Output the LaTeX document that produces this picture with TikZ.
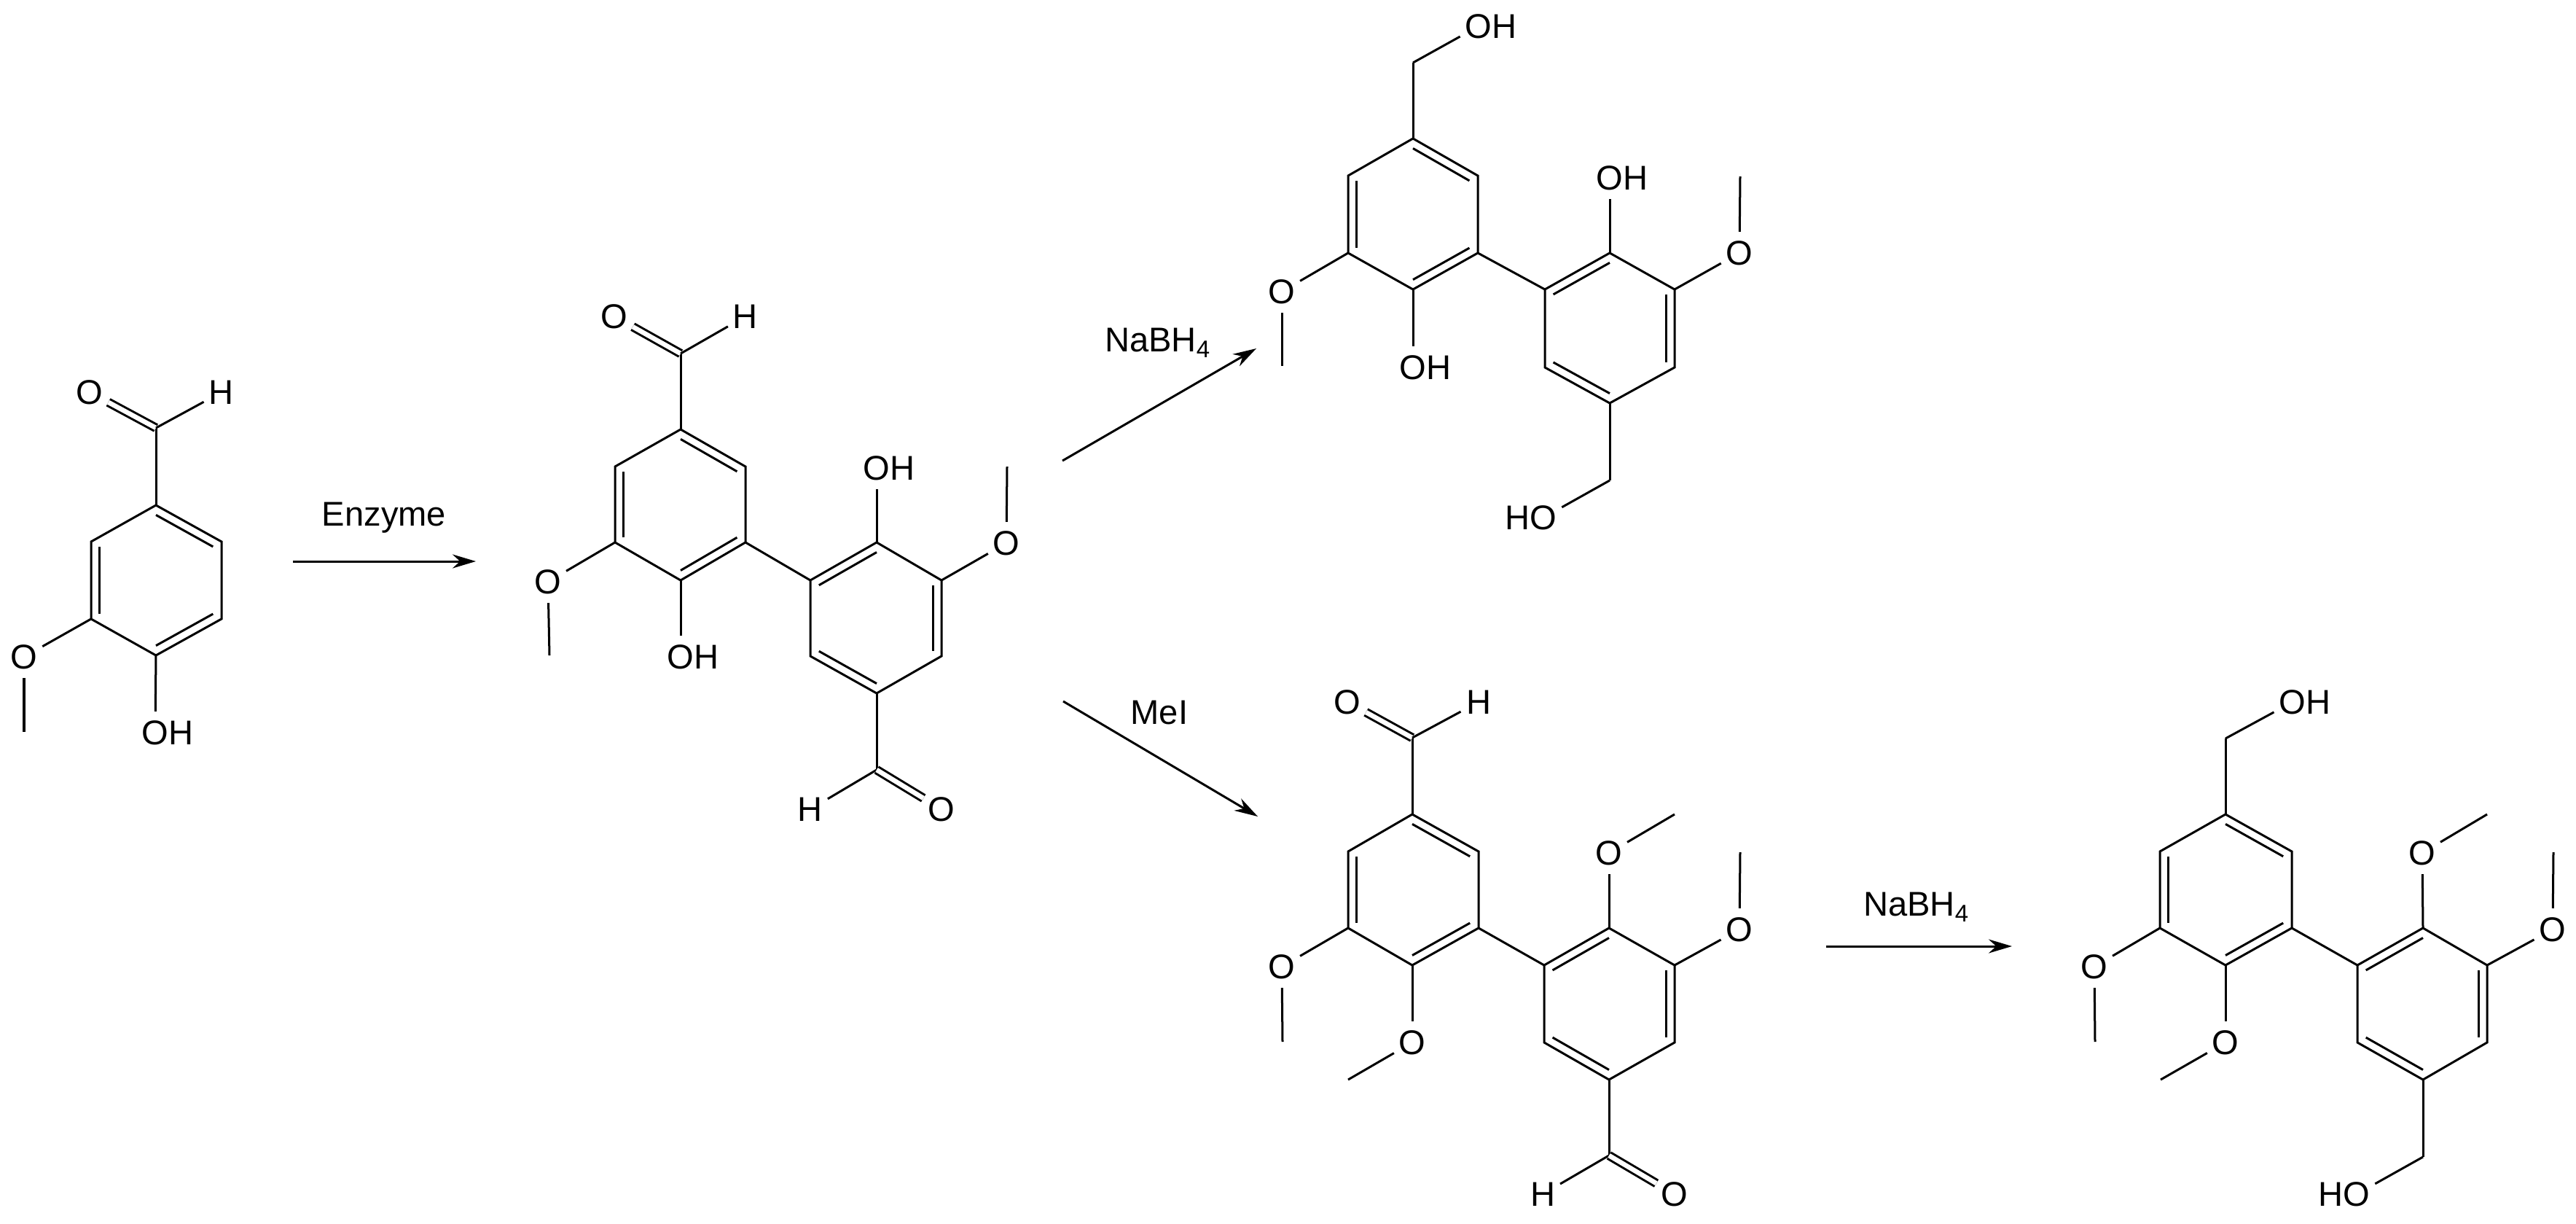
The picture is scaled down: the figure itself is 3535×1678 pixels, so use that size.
\documentclass[tikz,border=0pt]{standalone}
\usepackage{fontspec}
\setmainfont{Liberation Sans}
\usetikzlibrary{calc,arrows.meta}
\tikzstyle{atom} = [circle, inner sep = 0.02cm, font = \fontsize{13.4}{16}\selectfont]
\tikzstyle{label} = [inner sep = 0pt, font = \fontsize{13.4}{16}\selectfont]
\tikzstyle{dbond} = [double, double distance = 0.065cm]
\tikzstyle{react} = [-{Stealth[length = 0.32cm, width = 0.19cm]}]
\newcommand{\innerbond}[3]{\draw ($(#1)!0.13!(#3)$) -- ($(#2)!0.13!(#3)$);}
\begin{document}
\begin{tikzpicture}[x = 0.01cm, y = -0.01cm, line width = 0.03cm]
\useasboundingbox (0,0) rectangle (3535,1678);

% vanillin
\coordinate (a1) at (214,693);
\coordinate (a2) at (304,743);
\coordinate (a3) at (304,849);
\coordinate (a4) at (214,899);
\coordinate (a5) at (125,849);
\coordinate (a6) at (125,743);
\coordinate (ca) at (214,796);
\coordinate (a7) at (214,587);
\coordinate (a11) at (33,1004);
\node (a8) [atom] at (123,538) {O};
\node (a9) [atom] at (304,538) {H};
\node (a10) [atom] at (33,901) {O};
\node (a12) [atom] at (213,1005) {O\rlap{H}};

\draw (a1) -- (a2) -- (a3) -- (a4) -- (a5) -- (a6) -- cycle;
\innerbond{a1}{a2}{ca}
\innerbond{a3}{a4}{ca}
\innerbond{a5}{a6}{ca}
\draw (a1) -- (a7);
\draw [dbond] (a7) -- (a8);
\draw (a7) -- (a9);
\draw (a5) -- (a10);
\draw (a10) -- (a11);
\draw (a4) -- (a12);

% dimer
\coordinate (b1) at (934,589);
\coordinate (b2) at (1023,640);
\coordinate (b3) at (1023,744);
\coordinate (b4) at (934,796);
\coordinate (b5) at (844,744);
\coordinate (b6) at (844,640);
\coordinate (cb) at (934,692);
\coordinate (b7) at (1203,744);
\coordinate (b8) at (1292,796);
\coordinate (b9) at (1292,900);
\coordinate (b10) at (1203,951);
\coordinate (b11) at (1112,900);
\coordinate (b12) at (1112,796);
\coordinate (cB) at (1203,848);
\coordinate (b13) at (934,485);
\coordinate (b19) at (754,899);
\coordinate (b23) at (1382,640);
\coordinate (b24) at (1203,1056);
\node (b14) [atom] at (843,434) {O};
\node (b15) [atom] at (1023,434) {H};
\node (b16) [atom] at (752,798) {O};
\node (b17) [atom] at (934,901) {O\rlap{H}};
\node (b18) [atom] at (1203,642) {O\rlap{H}};
\node (b22) [atom] at (1381,745) {O};
\node (b25) [atom] at (1112,1110) {H};
\node (b26) [atom] at (1292,1110) {O};

\draw (b1) -- (b2) -- (b3) -- (b4) -- (b5) -- (b6) -- cycle;
\innerbond{b1}{b2}{cb}
\innerbond{b3}{b4}{cb}
\innerbond{b5}{b6}{cb}
\draw (b7) -- (b8) -- (b9) -- (b10) -- (b11) -- (b12) -- cycle;
\innerbond{b12}{b7}{cB}
\innerbond{b8}{b9}{cB}
\innerbond{b10}{b11}{cB}
\draw (b3) -- (b12);
\draw (b1) -- (b13);
\draw [dbond] (b13) -- (b14);
\draw (b13) -- (b15);
\draw (b5) -- (b16);
\draw (b16) -- (b19);
\draw (b4) -- (b17);
\draw (b7) -- (b18);
\draw (b8) -- (b22);
\draw (b22) -- (b23);
\draw (b10) -- (b24);
\draw (b24) -- (b25);
\draw [dbond] (b24) -- (b26);

% reduced dimer
\coordinate (c1) at (1939,190);
\coordinate (c2) at (2028,241);
\coordinate (c3) at (2028,347);
\coordinate (c4) at (1939,397);
\coordinate (c5) at (1850,347);
\coordinate (c6) at (1850,241);
\coordinate (cc) at (1939,294);
\coordinate (c7) at (2209,347);
\coordinate (c8) at (2298,397);
\coordinate (c9) at (2298,504);
\coordinate (c10) at (2209,553);
\coordinate (c11) at (2120,504);
\coordinate (c12) at (2120,397);
\coordinate (cC) at (2209,450);
\coordinate (c13) at (1939,86);
\coordinate (c17) at (1759,502);
\coordinate (c21) at (2388,242);
\coordinate (c22) at (2209,659);
\node (c14) [atom] at (2029,36) {O\rlap{H}};
\node (c16) [atom] at (1759,400) {O};
\node (c18) [atom] at (1939,504) {O\rlap{H}};
\node (c19) [atom] at (2209,244) {O\rlap{H}};
\node (c20) [atom] at (2387,347) {O};
\node (c23) [atom] at (2118,710) {\llap{H}O};

\draw (c1) -- (c2) -- (c3) -- (c4) -- (c5) -- (c6) -- cycle;
\innerbond{c1}{c2}{cc}
\innerbond{c3}{c4}{cc}
\innerbond{c5}{c6}{cc}
\draw (c7) -- (c8) -- (c9) -- (c10) -- (c11) -- (c12) -- cycle;
\innerbond{c12}{c7}{cC}
\innerbond{c8}{c9}{cC}
\innerbond{c10}{c11}{cC}
\draw (c3) -- (c12);
\draw (c1) -- (c13);
\draw (c13) -- (c14);
\draw (c5) -- (c16);
\draw (c16) -- (c17);
\draw (c4) -- (c18);
\draw (c7) -- (c19);
\draw (c8) -- (c20);
\draw (c20) -- (c21);
\draw (c10) -- (c22);
\draw (c22) -- (c23);

% methylated dimer
\coordinate (d1) at (1938,1117);
\coordinate (d2) at (2029,1168);
\coordinate (d3) at (2029,1273);
\coordinate (d4) at (1938,1324);
\coordinate (d5) at (1850,1273);
\coordinate (d6) at (1850,1168);
\coordinate (cd) at (1938,1220);
\coordinate (d7) at (2208,1273);
\coordinate (d8) at (2298,1324);
\coordinate (d9) at (2298,1430);
\coordinate (d10) at (2208,1481);
\coordinate (d11) at (2119,1430);
\coordinate (d12) at (2119,1324);
\coordinate (cD) at (2208,1377);
\coordinate (d13) at (1938,1012);
\coordinate (d17) at (1760,1429);
\coordinate (d19) at (1850,1481);
\coordinate (d21) at (2298,1117);
\coordinate (d23) at (2388,1169);
\coordinate (d24) at (2208,1585);
\node (d14) [atom] at (1849,963) {O};
\node (d15) [atom] at (2029,963) {H};
\node (d16) [atom] at (1759,1326) {O};
\node (d18) [atom] at (1938,1430) {O};
\node (d20) [atom] at (2208,1170) {O};
\node (d22) [atom] at (2387,1275) {O};
\node (d25) [atom] at (2117,1638) {H};
\node (d26) [atom] at (2298,1638) {O};

\draw (d1) -- (d2) -- (d3) -- (d4) -- (d5) -- (d6) -- cycle;
\innerbond{d1}{d2}{cd}
\innerbond{d3}{d4}{cd}
\innerbond{d5}{d6}{cd}
\draw (d7) -- (d8) -- (d9) -- (d10) -- (d11) -- (d12) -- cycle;
\innerbond{d12}{d7}{cD}
\innerbond{d8}{d9}{cD}
\innerbond{d10}{d11}{cD}
\draw (d3) -- (d12);
\draw (d1) -- (d13);
\draw [dbond] (d13) -- (d14);
\draw (d13) -- (d15);
\draw (d5) -- (d16);
\draw (d16) -- (d17);
\draw (d4) -- (d18);
\draw (d18) -- (d19);
\draw (d7) -- (d20);
\draw (d20) -- (d21);
\draw (d8) -- (d22);
\draw (d22) -- (d23);
\draw (d10) -- (d24);
\draw (d24) -- (d25);
\draw [dbond] (d24) -- (d26);

% reduced methylated dimer
\coordinate (e1) at (3054,1117);
\coordinate (e2) at (3145,1168);
\coordinate (e3) at (3145,1273);
\coordinate (e4) at (3054,1324);
\coordinate (e5) at (2964,1273);
\coordinate (e6) at (2964,1168);
\coordinate (ce) at (3054,1220);
\coordinate (e7) at (3325,1273);
\coordinate (e8) at (3413,1324);
\coordinate (e9) at (3413,1430);
\coordinate (e10) at (3325,1481);
\coordinate (e11) at (3235,1430);
\coordinate (e12) at (3235,1324);
\coordinate (cE) at (3325,1377);
\coordinate (e13) at (3054,1013);
\coordinate (e16) at (2875,1429);
\coordinate (e18) at (2965,1481);
\coordinate (e20) at (3413,1117);
\coordinate (e22) at (3504,1169);
\coordinate (e23) at (3325,1587);
\node (e14) [atom] at (3146,963) {O\rlap{H}};
\node (e15) [atom] at (2874,1326) {O};
\node (e17) [atom] at (3054,1430) {O};
\node (e19) [atom] at (3324,1170) {O};
\node (e21) [atom] at (3503,1275) {O};
\node (e24) [atom] at (3234,1638) {\llap{H}O};

\draw (e1) -- (e2) -- (e3) -- (e4) -- (e5) -- (e6) -- cycle;
\innerbond{e1}{e2}{ce}
\innerbond{e3}{e4}{ce}
\innerbond{e5}{e6}{ce}
\draw (e7) -- (e8) -- (e9) -- (e10) -- (e11) -- (e12) -- cycle;
\innerbond{e12}{e7}{cE}
\innerbond{e8}{e9}{cE}
\innerbond{e10}{e11}{cE}
\draw (e3) -- (e12);
\draw (e1) -- (e13);
\draw (e13) -- (e14);
\draw (e5) -- (e15);
\draw (e15) -- (e16);
\draw (e4) -- (e17);
\draw (e17) -- (e18);
\draw (e7) -- (e19);
\draw (e19) -- (e20);
\draw (e8) -- (e21);
\draw (e21) -- (e22);
\draw (e10) -- (e23);
\draw (e23) -- (e24);

% reaction arrows
\coordinate (r1) at (402,770);
\coordinate (r2) at (653,770);
\coordinate (r3) at (1458,632);
\coordinate (r4) at (1724,478);
\coordinate (r5) at (1459,962);
\coordinate (r6) at (1726,1120);
\coordinate (r7) at (2506,1298);
\coordinate (r8) at (2761,1298);
\node (t1) [label] at (527,710) {Enzyme};
\node (t2) [label] at (1589,470) {NaBH\textsubscript{4}};
\node (t3) [label] at (1591,978) {MeI};
\node (t4) [label] at (2630,1244) {NaBH\textsubscript{4}};

\draw [react] (r1) -- (r2);
\draw [react] (r3) -- (r4);
\draw [react] (r5) -- (r6);
\draw [react] (r7) -- (r8);

\end{tikzpicture}
\end{document}
